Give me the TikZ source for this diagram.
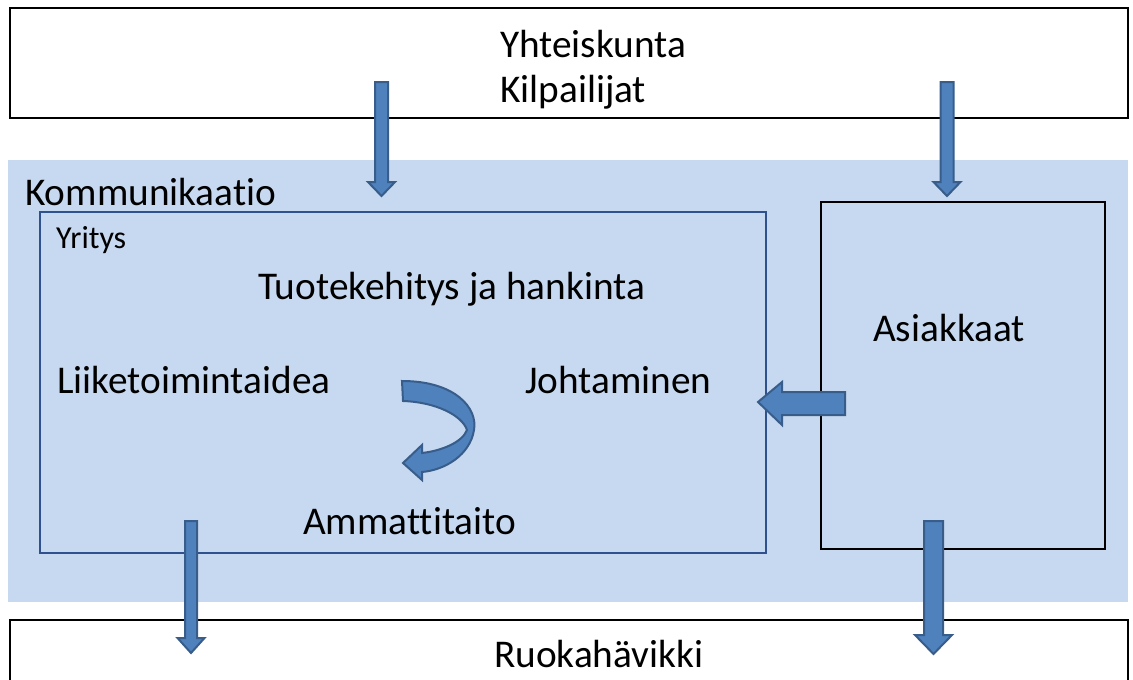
\documentclass[tikz,border=0pt]{standalone}
\usepackage{fontspec}
\setmainfont[Ligatures=NoCommon]{Carlito}
\definecolor{bgblue}{RGB}{199,217,240}
\definecolor{arrfill}{RGB}{79,129,189}
\definecolor{arrline}{RGB}{56,93,138}
\definecolor{boxblue}{RGB}{47,82,143}
\tikzset{
  big/.style={font=\fontsize{39.3}{46}\selectfont, inner sep=0pt, anchor=base west},
  small/.style={font=\fontsize{32}{38}\selectfont, inner sep=0pt, anchor=base west},
  blockarrow/.style={fill=arrfill, draw=arrline, line width=2pt, line join=miter},
}
% down block arrow: x, ytop, ytip, shaft half width, head half width, head length
\newcommand\blkdown[6]{%
  \draw[blockarrow] (#1-#4,#2) -- (#1+#4,#2) -- (#1+#4,#3-#6) -- (#1+#5,#3-#6) -- (#1,#3)
    -- (#1-#5,#3-#6) -- (#1-#4,#3-#6) -- cycle;}
\begin{document}
\begin{tikzpicture}[x=1pt,y=-1pt]
\useasboundingbox (0,0) rectangle (1133,680);
% top box
\draw[line width=1.2pt] (10,8) rectangle (1128,118);
\node[big] (yht) at (500,57) {Yhteiskunta};
\node[big] (kil) at (500,102) {Kilpailijat};
% communication area
\fill[bgblue] (8,160) rectangle (1128,602);
\node[big] (kom) at (25,205) {Kommunikaatio};
% company box
\draw[boxblue, line width=1.2pt] (40,212) rectangle (766,553);
\node[small] (yri) at (56,248) {Yritys};
\node[big] (tuo) at (258,299) {Tuotekehitys ja hankinta};
\node[big] (lii) at (57,393) {Liiketoimintaidea};
\node[big] (joh) at (525,393) {Johtaminen};
\node[big] (amm) at (303,534) {Ammattitaito};
% customers box
\draw[line width=1.2pt] (821,202) rectangle (1105,549);
\node[big] (asi) at (873,341) {Asiakkaat};
% bottom box
\draw[line width=1.2pt] (10,620) rectangle (1128,700);
\node[big] (ruo) at (494,667) {Ruokahävikki};
% block arrows
\blkdown{381.5}{82}{196}{6.5}{13.5}{14}
\blkdown{947}{82}{196}{6.5}{13.5}{14}
\blkdown{191}{521}{653}{6}{13.5}{15}
\blkdown{933.5}{521}{654}{9.5}{18.5}{19}
\draw[blockarrow] (845,392) -- (845,415) -- (782,415) -- (782,425) -- (758,402)
  -- (782,382) -- (782,392) -- cycle;
% curved arrow
\draw[blockarrow]
  (402,381) .. controls (455,381) and (478,408) .. (474,430)
  .. controls (470,455) and (445,470) .. (422,472)
  -- (422,480) -- (403,463) -- (422,445) -- (422,453)
  .. controls (440,451) and (462,443) .. (467,430)
  .. controls (462,415) and (435,402) .. (403,401) -- cycle;
\end{tikzpicture}
\end{document}
